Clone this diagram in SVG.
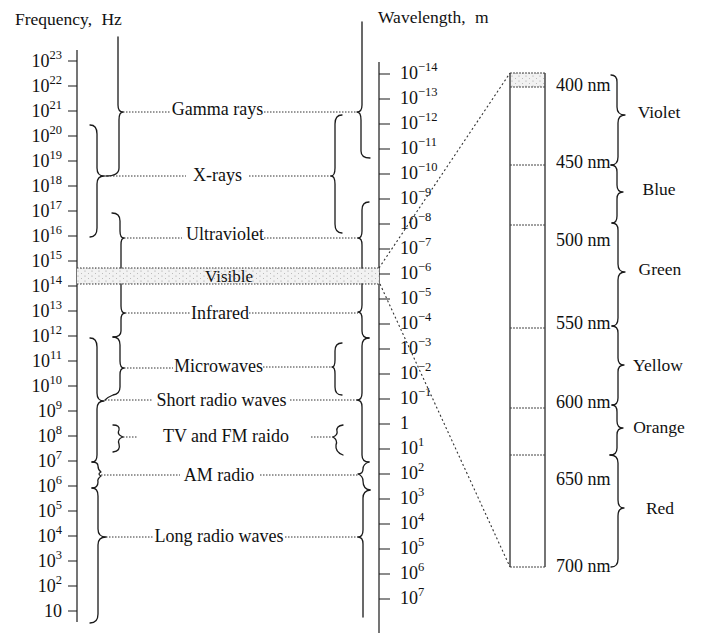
<svg xmlns="http://www.w3.org/2000/svg" width="706" height="640" viewBox="0 0 706 640">
<style>
text{font-family:"Liberation Serif","Times New Roman",serif;fill:#111}
.lbl{font-size:18px;text-anchor:middle}
.ttl{font-size:17.5px;word-spacing:5px}
.fq{font-size:18px;text-anchor:end}
.wl{font-size:18px}
.sup{font-size:12.5px}
.nm{font-size:18px}
.col{font-size:17.5px;text-anchor:middle}
.ln{fill:none;stroke:#1a1a1a;stroke-width:1.3;stroke-linejoin:round;stroke-linecap:round}
.tk{fill:none;stroke:#1a1a1a;stroke-width:1.2}
.dot{fill:none;stroke:#333;stroke-width:1;stroke-dasharray:1.5 1.5}
.sep{fill:none;stroke:#444;stroke-width:1;stroke-dasharray:2 1}
.ddot{fill:none;stroke:#333;stroke-width:1.1;stroke-dasharray:2 2.5}
</style>
<defs>
<pattern id="stip" width="7" height="5" patternUnits="userSpaceOnUse">
<rect width="7" height="5" fill="#f2f2f2"/>
<circle cx="1" cy="1" r="0.6" fill="#999"/>
<circle cx="4.5" cy="3.5" r="0.5" fill="#aaa"/>
</pattern>
</defs>
<rect width="706" height="640" fill="#fff"/>

<g id="titles">
<text class="ttl" x="15" y="25">Frequency, Hz</text>
<text class="ttl" x="378" y="23">Wavelength, m</text>
</g>

<g id="frequency-axis">
<path class="tk" d="M77,50 V622"/>
<path class="tk" d="M68,61H77M68,86H77M68,111H77M68,136H77M68,161H77M68,186H77M68,211H77M68,236H77M68,261H77M68,286H77M68,311H77M68,336H77M68,361H77M68,386H77M68,411H77M68,436H77M68,461H77M68,486H77M68,511H77M68,536H77M68,561H77M68,586H77M68,611H77"/>
<text class="fq" x="62" y="67">10<tspan class="sup" dy="-8">23</tspan></text>
<text class="fq" x="62" y="92">10<tspan class="sup" dy="-8">22</tspan></text>
<text class="fq" x="62" y="117">10<tspan class="sup" dy="-8">21</tspan></text>
<text class="fq" x="62" y="142">10<tspan class="sup" dy="-8">20</tspan></text>
<text class="fq" x="62" y="167">10<tspan class="sup" dy="-8">19</tspan></text>
<text class="fq" x="62" y="192">10<tspan class="sup" dy="-8">18</tspan></text>
<text class="fq" x="62" y="217">10<tspan class="sup" dy="-8">17</tspan></text>
<text class="fq" x="62" y="242">10<tspan class="sup" dy="-8">16</tspan></text>
<text class="fq" x="62" y="267">10<tspan class="sup" dy="-8">15</tspan></text>
<text class="fq" x="62" y="292">10<tspan class="sup" dy="-8">14</tspan></text>
<text class="fq" x="62" y="317">10<tspan class="sup" dy="-8">13</tspan></text>
<text class="fq" x="62" y="342">10<tspan class="sup" dy="-8">12</tspan></text>
<text class="fq" x="62" y="367">10<tspan class="sup" dy="-8">11</tspan></text>
<text class="fq" x="62" y="392">10<tspan class="sup" dy="-8">10</tspan></text>
<text class="fq" x="62" y="417">10<tspan class="sup" dy="-8">9</tspan></text>
<text class="fq" x="62" y="442">10<tspan class="sup" dy="-8">8</tspan></text>
<text class="fq" x="62" y="467">10<tspan class="sup" dy="-8">7</tspan></text>
<text class="fq" x="62" y="492">10<tspan class="sup" dy="-8">6</tspan></text>
<text class="fq" x="62" y="517">10<tspan class="sup" dy="-8">5</tspan></text>
<text class="fq" x="62" y="542">10<tspan class="sup" dy="-8">4</tspan></text>
<text class="fq" x="62" y="567">10<tspan class="sup" dy="-8">3</tspan></text>
<text class="fq" x="62" y="592">10<tspan class="sup" dy="-8">2</tspan></text>
<text class="fq" x="62" y="617">10</text>
</g>

<g id="wavelength-axis">
<path class="tk" d="M379,62 V633"/>
<path class="tk" d="M379,74H390M379,99H390M379,124H390M379,149H390M379,174H390M379,199H390M379,224H390M379,249H390M379,274H390M379,299H390M379,324H390M379,349H390M379,374H390M379,399H390M379,424H390M379,449H390M379,474H390M379,499H390M379,524H390M379,549H390M379,574H390M379,599H390"/>
<text class="wl" x="400" y="79">10<tspan class="sup" dy="-8">−14</tspan></text>
<text class="wl" x="400" y="104">10<tspan class="sup" dy="-8">−13</tspan></text>
<text class="wl" x="400" y="129">10<tspan class="sup" dy="-8">−12</tspan></text>
<text class="wl" x="400" y="154">10<tspan class="sup" dy="-8">−11</tspan></text>
<text class="wl" x="400" y="179">10<tspan class="sup" dy="-8">−10</tspan></text>
<text class="wl" x="400" y="204">10<tspan class="sup" dy="-8">−9</tspan></text>
<text class="wl" x="400" y="229">10<tspan class="sup" dy="-8">−8</tspan></text>
<text class="wl" x="400" y="254">10<tspan class="sup" dy="-8">−7</tspan></text>
<text class="wl" x="400" y="279">10<tspan class="sup" dy="-8">−6</tspan></text>
<text class="wl" x="400" y="304">10<tspan class="sup" dy="-8">−5</tspan></text>
<text class="wl" x="400" y="329">10<tspan class="sup" dy="-8">−4</tspan></text>
<text class="wl" x="400" y="354">10<tspan class="sup" dy="-8">−3</tspan></text>
<text class="wl" x="400" y="379">10<tspan class="sup" dy="-8">−2</tspan></text>
<text class="wl" x="400" y="404">10<tspan class="sup" dy="-8">−1</tspan></text>
<text class="wl" x="400" y="429">1</text>
<text class="wl" x="400" y="454">10<tspan class="sup" dy="-8">1</tspan></text>
<text class="wl" x="400" y="479">10<tspan class="sup" dy="-8">2</tspan></text>
<text class="wl" x="400" y="504">10<tspan class="sup" dy="-8">3</tspan></text>
<text class="wl" x="400" y="529">10<tspan class="sup" dy="-8">4</tspan></text>
<text class="wl" x="400" y="554">10<tspan class="sup" dy="-8">5</tspan></text>
<text class="wl" x="400" y="579">10<tspan class="sup" dy="-8">6</tspan></text>
<text class="wl" x="400" y="604">10<tspan class="sup" dy="-8">7</tspan></text>
</g>

<g id="visible-band">
<rect x="77" y="268" width="302" height="16" fill="url(#stip)"/>
<path class="dot" d="M77,268H379M77,284H379"/>
<text class="lbl" x="229" y="282" style="font-size:17px">Visible</text>
</g>

<g id="gamma-rays">
<path class="ln" d="M118,37 L118,105 Q118,112 123,112 Q119,112 119,120 L119,168 Q119,176 106,176"/>
<path class="ln" d="M362,22 L362,105 Q362,112 357,112 Q361,112 361,120 L361,151 Q361,158 370,158"/>
<text class="lbl" x="217.5" y="115">Gamma rays</text>
</g>

<g id="x-rays">
<path class="ln" d="M90,125 Q97,125 97,134 L97,168 Q97,176 104,176 Q97,176 97,184 L97,228 Q97,237 90,237"/>
<path class="ln" d="M342,115 Q335,115 335,124 L335,168 Q335,176 331,176 Q335,176 335,184 L335,224 Q335,233 342,233"/>
<text class="lbl" x="217.5" y="181">X-rays</text>
</g>

<g id="ultraviolet">
<path class="ln" d="M112,213 Q120,213 120,221 L120,231 Q120,238 124,238 Q121,238 121,245 L121,268"/>
<path class="ln" d="M369,202 Q362,202 362,210 L362,231 Q362,238 358,238 Q362,238 362,245 L362,268"/>
<text class="lbl" x="225" y="240">Ultraviolet</text>
</g>

<g id="infrared">
<path class="ln" d="M121,284 L121,306 Q121,313 125,313 Q121,313 121,320 L121,331 Q121,337 113,337"/>
<path class="ln" d="M362,284 L362,305 Q362,312 358,312 Q362,312 362,319 L362,331 Q362,338 369,338"/>
<text class="lbl" x="220" y="319">Infrared</text>
</g>

<g id="microwaves">
<path class="ln" d="M113,337 Q120,337 120,345 L120,361 Q120,368 124,368 Q120,368 120,375 L120,387 Q120,394 113,395 Q108,397 105,400"/>
<path class="ln" d="M342,343 Q335,343 335,351 L335,360 Q335,367 332,367 Q335,367 335,374 L335,387 Q335,395 342,395"/>
<text class="lbl" x="218.5" y="372">Microwaves</text>
</g>

<g id="short-radio-waves">
<path class="ln" d="M90,338 Q97,338 97,347 L97,393 Q97,401 104,401 Q97,401 97,409 L97,455 Q97,462 92,462"/>
<path class="ln" d="M369,338 Q362,338 362,346 L362,393 Q362,400 357,400 Q362,400 362,407 L362,455 Q362,462 369,462"/>
<text class="lbl" x="221.5" y="406">Short radio waves</text>
</g>

<g id="tv-fm-radio">
<path class="ln" d="M113,425 Q120,425 119,430 Q117,434 121,436 L123,437 Q117,439 119,444 Q121,451 113,452"/>
<path class="ln" d="M343,425 Q336,426 337,431 Q338,435 333,437 Q338,440 336,445 Q335,452 343,455"/>
<text class="lbl" x="226" y="442">TV and FM raido</text>
</g>

<g id="am-radio">
<path class="ln" d="M92,462 Q98,462 98,466 Q98,470 101,472 Q97,474 101,476 Q97,479 98,482 Q98,488 92,488"/>
<path class="ln" d="M369,462 Q363,464 363,469 Q363,474 358,474 Q363,476 363,481 Q363,489 370,490"/>
<text class="lbl" x="219" y="481">AM radio</text>
</g>

<g id="long-radio-waves">
<path class="ln" d="M92,488 Q98,488 98,496 L98,529 Q98,537 106,537 Q98,537 98,545 L98,614 Q98,623 90,623"/>
<path class="ln" d="M370,490 Q363,491 363,498 L363,530 Q363,537 358,537 Q363,537 363,544 L363,617"/>
<text class="lbl" x="219" y="542">Long radio waves</text>
</g>

<g id="visible-spectrum">
<rect x="510" y="73" width="35" height="14" fill="url(#stip)"/>
<path class="tk" d="M510,73V567M545,73V567"/>
<path class="sep" d="M510,73H545M510,87H545M510,165H545M510,225H545M510,328H545M510,408H545M510,455H545M510,567H545"/>
<text class="nm" x="556" y="91">400 nm</text>
<text class="nm" x="556" y="168">450 nm</text>
<text class="nm" x="556" y="246">500 nm</text>
<text class="nm" x="556" y="329">550 nm</text>
<text class="nm" x="556" y="408">600 nm</text>
<text class="nm" x="556" y="485">650 nm</text>
<text class="nm" x="556" y="572">700 nm</text>
</g>

<g id="violet">
<path class="ln" d="M611,75 Q617,75 617,82 L617,107 Q617,115 625,115 Q618,115 618,123 L618,157 Q618,165 611,165"/>
<text class="col" x="659" y="118">Violet</text>
</g>
<g id="blue">
<path class="ln" d="M611,165 Q617,165 617,172 L617,185 Q617,192 623,192 Q617,192 617,199 L617,216 Q617,223 612,223"/>
<text class="col" x="659" y="195">Blue</text>
</g>
<g id="green">
<path class="ln" d="M612,223 Q618,223 618,230 L618,264 Q618,272 625,272 Q618,272 618,280 L618,318 Q618,326 612,326"/>
<text class="col" x="660" y="275">Green</text>
</g>
<g id="yellow">
<path class="ln" d="M612,326 Q618,326 618,333 L618,358 Q618,365 624,365 Q618,365 618,372 L618,398 Q618,405 612,405"/>
<text class="col" x="658" y="371">Yellow</text>
</g>
<g id="orange">
<path class="ln" d="M612,405 Q617,405 617,412 L617,421 Q617,428 623,428 Q617,428 617,435 L617,448 Q617,455 610,455"/>
<text class="col" x="659" y="433">Orange</text>
</g>
<g id="red">
<path class="ln" d="M610,455 Q618,455 618,463 L618,500 Q618,508 624,508 Q618,508 618,516 L618,559 Q618,567 611,567"/>
<text class="col" x="660" y="514">Red</text>
</g>

<g id="connectors">
<path class="dot" d="M123,112H170M264,112H357"/>
<path class="dot" d="M104,176H186M249,176H331"/>
<path class="dot" d="M124,238H182M264,238H358"/>
<path class="dot" d="M125,313H190M249,313H358"/>
<path class="dot" d="M124,368H173M263,367H332"/>
<path class="dot" d="M105,400H153M290,400H357"/>
<path class="dot" d="M123,437H137M311,437H333"/>
<path class="dot" d="M101,475H180M260,475H358"/>
<path class="dot" d="M106,537H153M285,537H358"/>
<path class="ddot" d="M379,268L510,73"/>
<path class="ddot" d="M380,284L510,567"/>
</g>
</svg>
